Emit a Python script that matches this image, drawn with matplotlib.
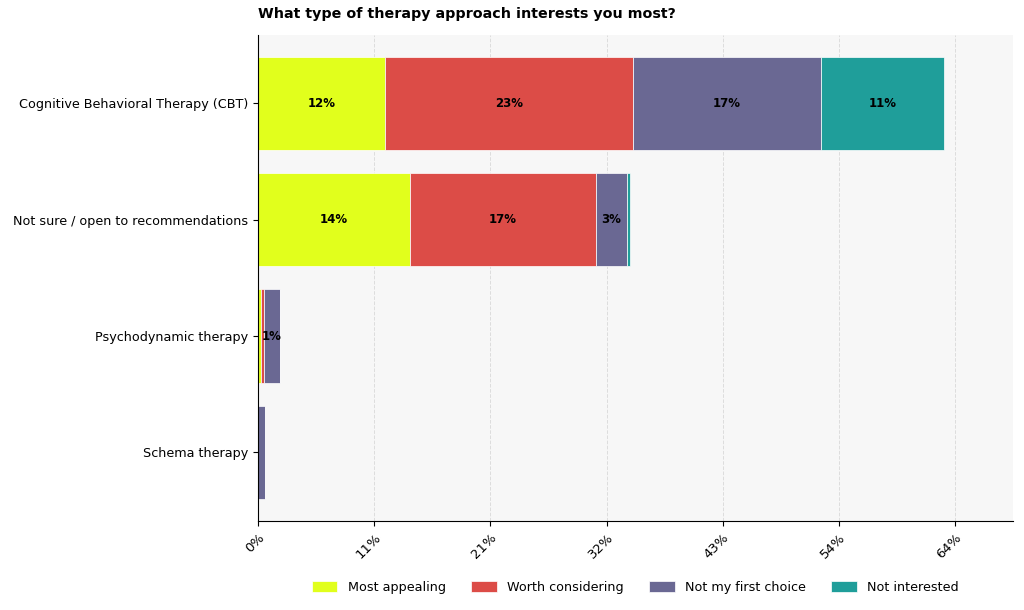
import numpy as np
import matplotlib
matplotlib.use('Agg')
import matplotlib.pyplot as plt

# Data (percent of respondents)
categories = ['Cognitive Behavioral Therapy (CBT)', 'Not sure / open to recommendations',
              'Psychodynamic therapy', 'Schema therapy']
series_names = ['Most appealing', 'Worth considering', 'Not my first choice', 'Not interested']
most_appealing = [11.7, 14.0, 0.3, 0.0]
worth_considering = [22.9, 17.2, 0.25, 0.0]
not_first_choice = [17.3, 2.8, 1.45, 0.6]
not_interested = [11.4, 0.3, 0.0, 0.0]
colors = ['#e1ff1c', '#dc4c47', '#6a6893', '#1f9e9a']

tick_values = np.linspace(0, 64.3, 7)

series = [most_appealing, worth_considering, not_first_choice, not_interested]

fig = plt.figure(figsize=(10.24, 6.1), dpi=100)
ax = fig.add_axes([0.252, 0.146, 0.737, 0.797])
ax.set_facecolor('#f7f7f7')

y = np.arange(len(categories))
left = np.zeros(len(categories))
for name, vals, c in zip(series_names, series, colors):
    vals = np.array(vals)
    bars = ax.barh(y, vals, left=left, height=0.8, color=c,
                   edgecolor='white', linewidth=0.5, label=name, zorder=2)
    for b, v, l in zip(bars, vals, left):
        if v >= 1:
            ax.text(l + v / 2, b.get_y() + b.get_height() / 2, f'{v:.0f}%',
                    ha='center', va='center', fontsize=8.5, fontweight='bold', zorder=3)
    left = left + vals

ax.invert_yaxis()
ax.set_yticks(y)
ax.set_yticklabels(categories, fontsize=9.2)
ax.set_xlim(0, left.max() * 1.1)
ax.set_xticks(tick_values)
ax.set_xticklabels([f'{v:.0f}%' for v in tick_values], rotation=45, ha='right',
                   rotation_mode='anchor', fontsize=9.5)
ax.grid(axis='x', linestyle='--', color='#dddddd', linewidth=0.7, zorder=0)
ax.set_axisbelow(True)
for s in ['top', 'right']:
    ax.spines[s].set_visible(False)

ax.set_title('What type of therapy approach interests you most?', loc='left',
             fontsize=10.3, fontweight='bold', pad=12)
ax.legend(loc='upper center', bbox_to_anchor=(0.5, -0.1), ncol=4, frameon=False,
          fontsize=9.2, handlelength=2.0, handleheight=0.9, columnspacing=2.0)

fig.savefig('out.png', dpi=100)
